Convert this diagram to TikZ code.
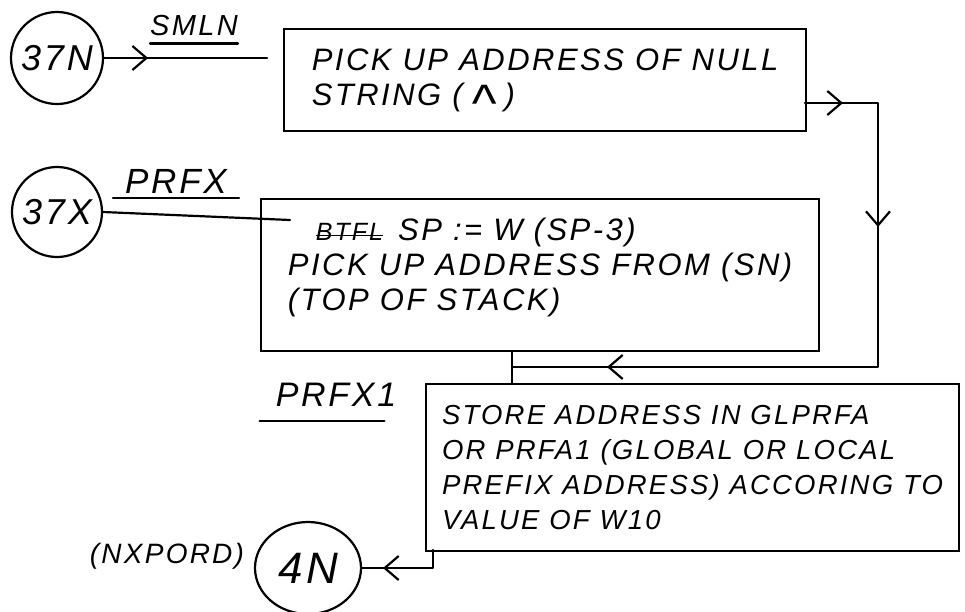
\documentclass[tikz,border=0pt]{standalone}
\usepackage{fontspec}
\newfontfamily\hand[LetterSpace=8]{Liberation Sans}
\newlength\mystrklen
\newcommand\mystrike[1]{\settowidth\mystrklen{#1}\rlap{\rule[0.35ex]{\mystrklen}{1.4pt}}#1}
\usetikzlibrary{arrows.meta,decorations.markings,shapes.geometric}
\tikzset{
  ln/.style={line width=2.2pt, line cap=round, line join=round},
  boxst/.style={draw, line width=2.2pt, rectangle, align=left, anchor=north west, inner ysep=0pt,
    font=\hand\itshape\fontsize{31}{35}\selectfont},
  circst/.style={draw, circle, line width=2.2pt, inner sep=0pt, font=\hand\itshape\fontsize{36}{40}\selectfont},
  lbl/.style={inner sep=0pt, font=\hand\itshape\fontsize{#1}{#1}\selectfont},
  chev/.tip={Straight Barb[length=14pt,width=24pt,line width=2.2pt]},
  midarr/.style={postaction={decorate}, decoration={markings, mark=at position #1 with {\arrow{chev}}}}
}
\begin{document}
\begin{tikzpicture}[x=1pt,y=-1pt]
\useasboundingbox (0,0) rectangle (965,611);
\fill[white] (0,0) rectangle (965,611);

% terminals
\node[circst, minimum size=92pt] (c37N) at (57,58) {37N};
\node[circst, minimum size=90pt] (c37X) at (57,212) {37X};
\node[draw, ellipse, line width=2.2pt, inner sep=0pt, minimum width=106pt, minimum height=92pt,
      font=\hand\itshape\fontsize{44}{46}\selectfont] (c4N) at (308,568) {4N};

% boxes
\node[boxst, inner xsep=20pt, minimum width=522pt, minimum height=102pt] (box1) at (283,28)
  {PICK UP ADDRESS OF NULL\\STRING (\;\smash{\raisebox{-16pt}{\scalebox{1.7}{\textasciicircum}}}\;)};
\node[boxst, inner xsep=20pt, minimum width=558pt, minimum height=152pt] (box2) at (260,198)
  {\hspace*{28pt}{\fontsize{25}{26}\selectfont\mystrike{BTFL}}\hspace{4pt} SP := W (SP-3)\\PICK UP ADDRESS FROM (SN)\\(TOP OF STACK)\\[-14pt]};
\node[boxst, inner xsep=16pt, minimum width=530pt, minimum height=167pt,
      font=\hand\itshape\fontsize{27.5}{35}\selectfont] (box3) at (425,383)
  {STORE ADDRESS IN GLPRFA\\OR PRFA1 (GLOBAL OR LOCAL\\PREFIX ADDRESS) ACCORING TO\\VALUE OF W10};

% labels
\node[lbl=29] (smln) at (194,26) {SMLN};
\node[lbl=35] (prfx) at (176,181) {PRFX};
\node[lbl=34] (prfx1) at (336,395) {PRFX1};
\node[lbl=28] (nxpord) at (167,556) {(NXPORD)};
\draw[ln] ([yshift=-7pt]smln.south west) -- ([yshift=-7pt]smln.south east);
\draw[ln] ([xshift=-12pt,yshift=-5pt]prfx.south west) -- ([xshift=12pt,yshift=-5pt]prfx.south east);
\draw[ln] ([xshift=-16pt,yshift=-14pt]prfx1.south west) -- ([xshift=-12pt,yshift=-14pt]prfx1.south east);

% connectors
\coordinate (e37N) at (267,58);
\coordinate (e37X) at (290,220);
\coordinate (b1out) at (805,103);
\coordinate (rc) at (878,367);
\coordinate (j) at (512,367);
\coordinate (b3out) at (433,550);

\draw[ln, midarr=44pt] (c37N.east) -- (e37N);
\draw[ln] (c37X.east) -- (e37X);
\draw[ln, postaction={decorate}, decoration={markings,
    mark=at position 38pt with {\arrow{chev}},
    mark=at position 197pt with {\arrow{chev}},
    mark=at position 608pt with {\arrow{chev}}}]
  (b1out) -| (rc) -- (j);
\draw[ln] (box2.south -| j) -- (box3.north -| j);
\draw[ln, midarr=68pt] (b3out) |- (c4N.east);
\end{tikzpicture}
\end{document}
